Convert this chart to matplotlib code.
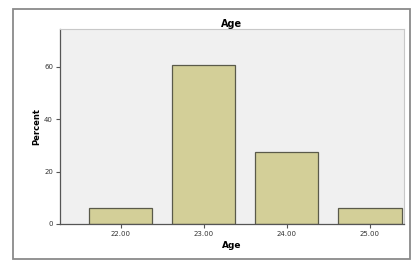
import matplotlib
matplotlib.use('Agg')
import matplotlib.pyplot as plt
from matplotlib.patches import Rectangle

ages = ['22.00', '23.00', '24.00', '25.00']
percent = [6.06, 60.61, 27.27, 6.06]

W, H = 414, 263
fig = plt.figure(figsize=(W / 100, H / 100), dpi=100)
fig.patch.set_facecolor('white')

# outer frame of the chart
fig.patches.append(Rectangle((13 / W, 1 - 259 / H), (410 - 13) / W, (259 - 9) / H,
                             transform=fig.transFigure, fill=False,
                             edgecolor='#8a8a8a', linewidth=1.3))

ax = fig.add_axes([60 / W, 1 - 224 / H, (404 - 60) / W, (224 - 29) / H])
ax.set_facecolor('#f0f0f0')

x = range(len(ages))
ax.bar(x, percent, width=0.76, color='#d3cf98', edgecolor='#5a5a4a', linewidth=0.9)

ax.set_xlim(-0.73, 3.41)
ax.set_ylim(0, 74.3)
ax.set_xticks(list(x))
ax.set_xticklabels(ages)
ax.set_yticks([0, 20, 40, 60])
ax.tick_params(labelsize=5, length=3, width=0.8, color='#555555', pad=2, labelcolor='#333333')

for s in ['left', 'bottom']:
    ax.spines[s].set_color('#555555')
    ax.spines[s].set_linewidth(0.9)
for s in ['top', 'right']:
    ax.spines[s].set_color('#c8c8c8')
    ax.spines[s].set_linewidth(0.8)

ax.set_title('Age', fontsize=7, fontweight='bold', pad=1)
ax.set_xlabel('Age', fontsize=6.5, fontweight='bold', labelpad=3)
ax.set_ylabel('Percent', fontsize=6, fontweight='bold', labelpad=2)

fig.savefig('out.png', dpi=100)
